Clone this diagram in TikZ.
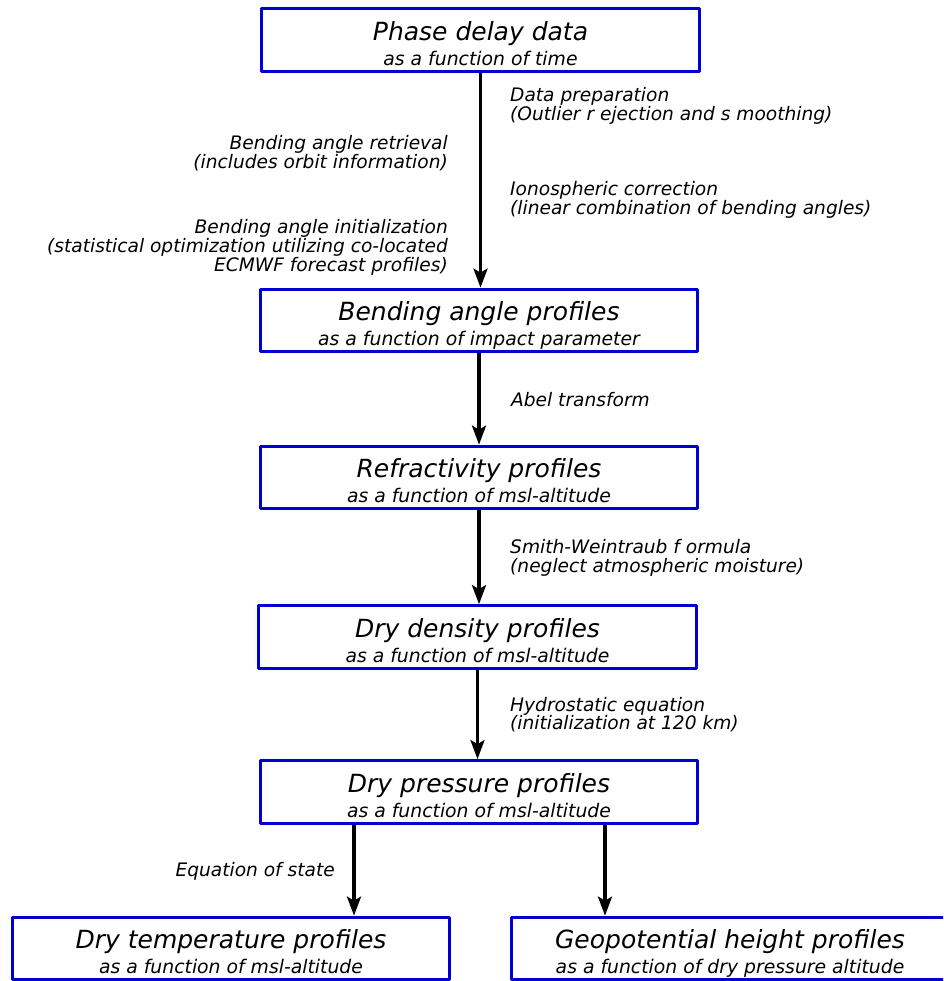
\documentclass[tikz,border=0pt]{standalone}
\usepackage{fontspec}
\setmainfont{DejaVu Sans}
\usetikzlibrary{arrows.meta}
\definecolor{boxblue}{RGB}{0,0,210}
\newcommand{\boxtxt}[2]{\rule{0pt}{31.5pt}#1\\{\fontsize{18.8}{25}\selectfont #2\rule[-6pt]{0pt}{6pt}}}
\newcommand{\lblfont}{\fontsize{18.6}{18.7}\selectfont\itshape}
\newcommand{\fs}{\rule{0pt}{16pt}}
\begin{document}
\begin{tikzpicture}[x=1pt,y=-1pt,
  procbox/.style={draw=boxblue, line width=3.2pt, line join=round, minimum width=437.5pt, minimum height=60.5pt,
    inner sep=0pt, align=center, font=\fontsize{25}{25}\selectfont\itshape},
  flow/.style={draw=black, line width=3.2pt, -{Stealth[length=19pt,width=14pt,inset=4pt]}},
  lbl/.style={inner sep=0pt, anchor=north west, align=left, font=\lblfont},
  lblr/.style={inner sep=0pt, anchor=north east, align=right, font=\lblfont}]
\useasboundingbox (0,0) rectangle (943,981);
\clip (0,0) rectangle (943,981);
\fill[white] (0,0) rectangle (943,981);

\node[procbox] (b1) at (480.5,40) {\boxtxt{Phase delay data}{as a function of time}};
\node[procbox] (b2) at (479,320.5) {\boxtxt{Bending angle profiles}{as a function of impact parameter}};
\node[procbox] (b3) at (479,477.5) {\boxtxt{Refractivity profiles}{as a function of msl-altitude}};
\node[procbox] (b4) at (477.5,637) {\boxtxt{Dry density profiles}{as a function of msl-altitude}};
\node[procbox] (b5) at (479,792) {\boxtxt{Dry pressure profiles}{as a function of msl-altitude}};
\node[procbox] (b6) at (231,948.5) {\boxtxt{Dry temperature profiles}{as a function of msl-altitude}};
\node[procbox] (b7) at (730,948.5) {\boxtxt{Geopotential height profiles}{as a function of dry pressure altitude}};

\draw[flow] (b1.south) -- (b1.south |- b2.north);
\draw[flow] (b2.south) -- (b2.south |- b3.north);
\draw[flow] (b3.south) -- (b3.south |- b4.north);
\draw[flow] (b4.south) -- (b4.south |- b5.north);
\draw[flow] ([xshift=-125pt]b5.south) -- ([xshift=-125pt]b5.south |- b6.north);
\draw[flow] ([xshift=126pt]b5.south) -- ([xshift=126pt]b5.south |- b7.north);

\node[lbl] (l1) at (510,85.5) {\fs Data preparation\\(Outlier r ejection and s moothing)};
\node[lbl] (l2) at (510,179.5) {\fs Ionospheric correction\\(linear combination of bending angles)};
\node[lblr] (l3) at (448,133.5) {\fs Bending angle retrieval\\(includes orbit information)};
\node[lblr] (l4) at (448,217.5) {\fs Bending angle initialization\\(statistical optimization utilizing co-located\\ECMWF forecast profiles)};
\node[lbl] (l5) at (511,390.5) {\fs Abel transform};
\node[lbl] (l6) at (510,537.5) {\fs Smith-Weintraub f ormula\\(neglect atmospheric moisture)};
\node[lbl] (l7) at (510,695) {\fs Hydrostatic equation\\(initialization at 120 km)};
\node[lblr] (l8) at (335,860) {\fs Equation of state};
\end{tikzpicture}
\end{document}
